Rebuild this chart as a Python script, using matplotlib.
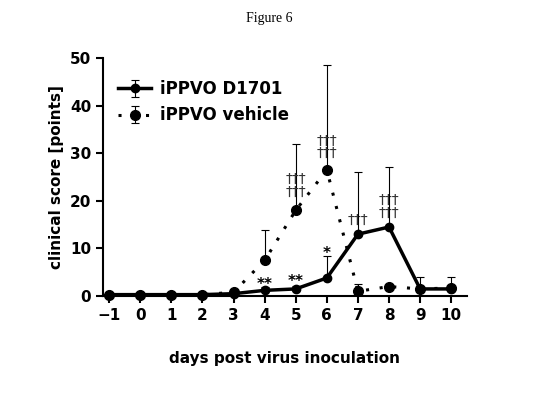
import matplotlib
matplotlib.use("Agg")
import matplotlib.pyplot as plt

days = [-1, 0, 1, 2, 3, 4, 5, 6, 7, 8, 9, 10]
d1701 = [0.3, 0.3, 0.3, 0.3, 0.5, 1.2, 1.5, 3.8, 13.0, 14.5, 1.5, 1.5]
d1701_err = [0.2, 0.2, 0.2, 0.2, 0.5, 0.8, 0.6, 4.7, 13.0, 12.5, 2.5, 2.5]
vehicle = [0.3, 0.3, 0.3, 0.3, 0.8, 7.5, 18.0, 26.5, 1.0, 2.0, 1.5, 1.7]
vehicle_err = [0.2, 0.2, 0.2, 0.2, 0.4, 6.3, 14.0, 22.0, 1.5, 0.4, 0.5, 0.5]
star_labels = {4: "**", 5: "**", 6: "*"}
star_y = {4: 2.5, 5: 3.0, 6: 9.0}
dag_labels = {5: "†††\n†††", 6: "†††\n†††", 7: "†††", 8: "†††\n†††"}
dag_y = {5: 20.5, 6: 28.5, 7: 14.5, 8: 16.0}

fig = plt.figure(figsize=(5.39, 4.17), dpi=100)
fig.text(0.5, 0.955, "Figure 6", ha="center", va="center", family="Liberation Serif", fontsize=10)
ax = fig.add_axes([0.191, 0.29, 0.675, 0.571])

ax.errorbar(days, vehicle, yerr=[[0]*12, vehicle_err], fmt="o", ls=(0, (1, 3.5)), lw=2.2,
            color="black", ms=7, capsize=3, elinewidth=0.8, capthick=0.8,
            label="iPPVO vehicle", clip_on=False, zorder=3)
ax.errorbar(days, d1701, yerr=[[0]*12, d1701_err], fmt="o-", lw=2.5,
            color="black", ms=6, capsize=3, elinewidth=0.8, capthick=0.8,
            label="iPPVO D1701", clip_on=False, zorder=4)

for d, s in star_labels.items():
    ax.text(d, star_y[d], s, ha="center", va="center", fontsize=11, fontweight="bold")
for d, s in dag_labels.items():
    ax.text(d, dag_y[d], s, ha="center", va="bottom", fontsize=10, linespacing=0.9, color="#333333")

ax.set_xlim(-1.2, 10.5)
ax.set_ylim(0, 50)
ax.set_xticks(days)
ax.set_yticks([0, 10, 20, 30, 40, 50])
for sp in ["top", "right"]:
    ax.spines[sp].set_visible(False)
for sp in ["left", "bottom"]:
    ax.spines[sp].set_linewidth(1.5)
ax.tick_params(width=1.5, length=5, labelsize=11)
for lab in ax.get_xticklabels() + ax.get_yticklabels():
    lab.set_fontweight("bold")
ax.set_xlabel("days post virus inoculation", fontsize=11, fontweight="bold", labelpad=20)
ax.set_ylabel("clinical score [points]", fontsize=11, fontweight="bold")

h, l = ax.get_legend_handles_labels()
leg = ax.legend(h[::-1], l[::-1], loc="upper left", bbox_to_anchor=(0.0, 0.97), frameon=False,
                prop={"weight": "bold", "size": 12}, handlelength=2, handletextpad=0.5)
fig.savefig("out.png", dpi=100)
